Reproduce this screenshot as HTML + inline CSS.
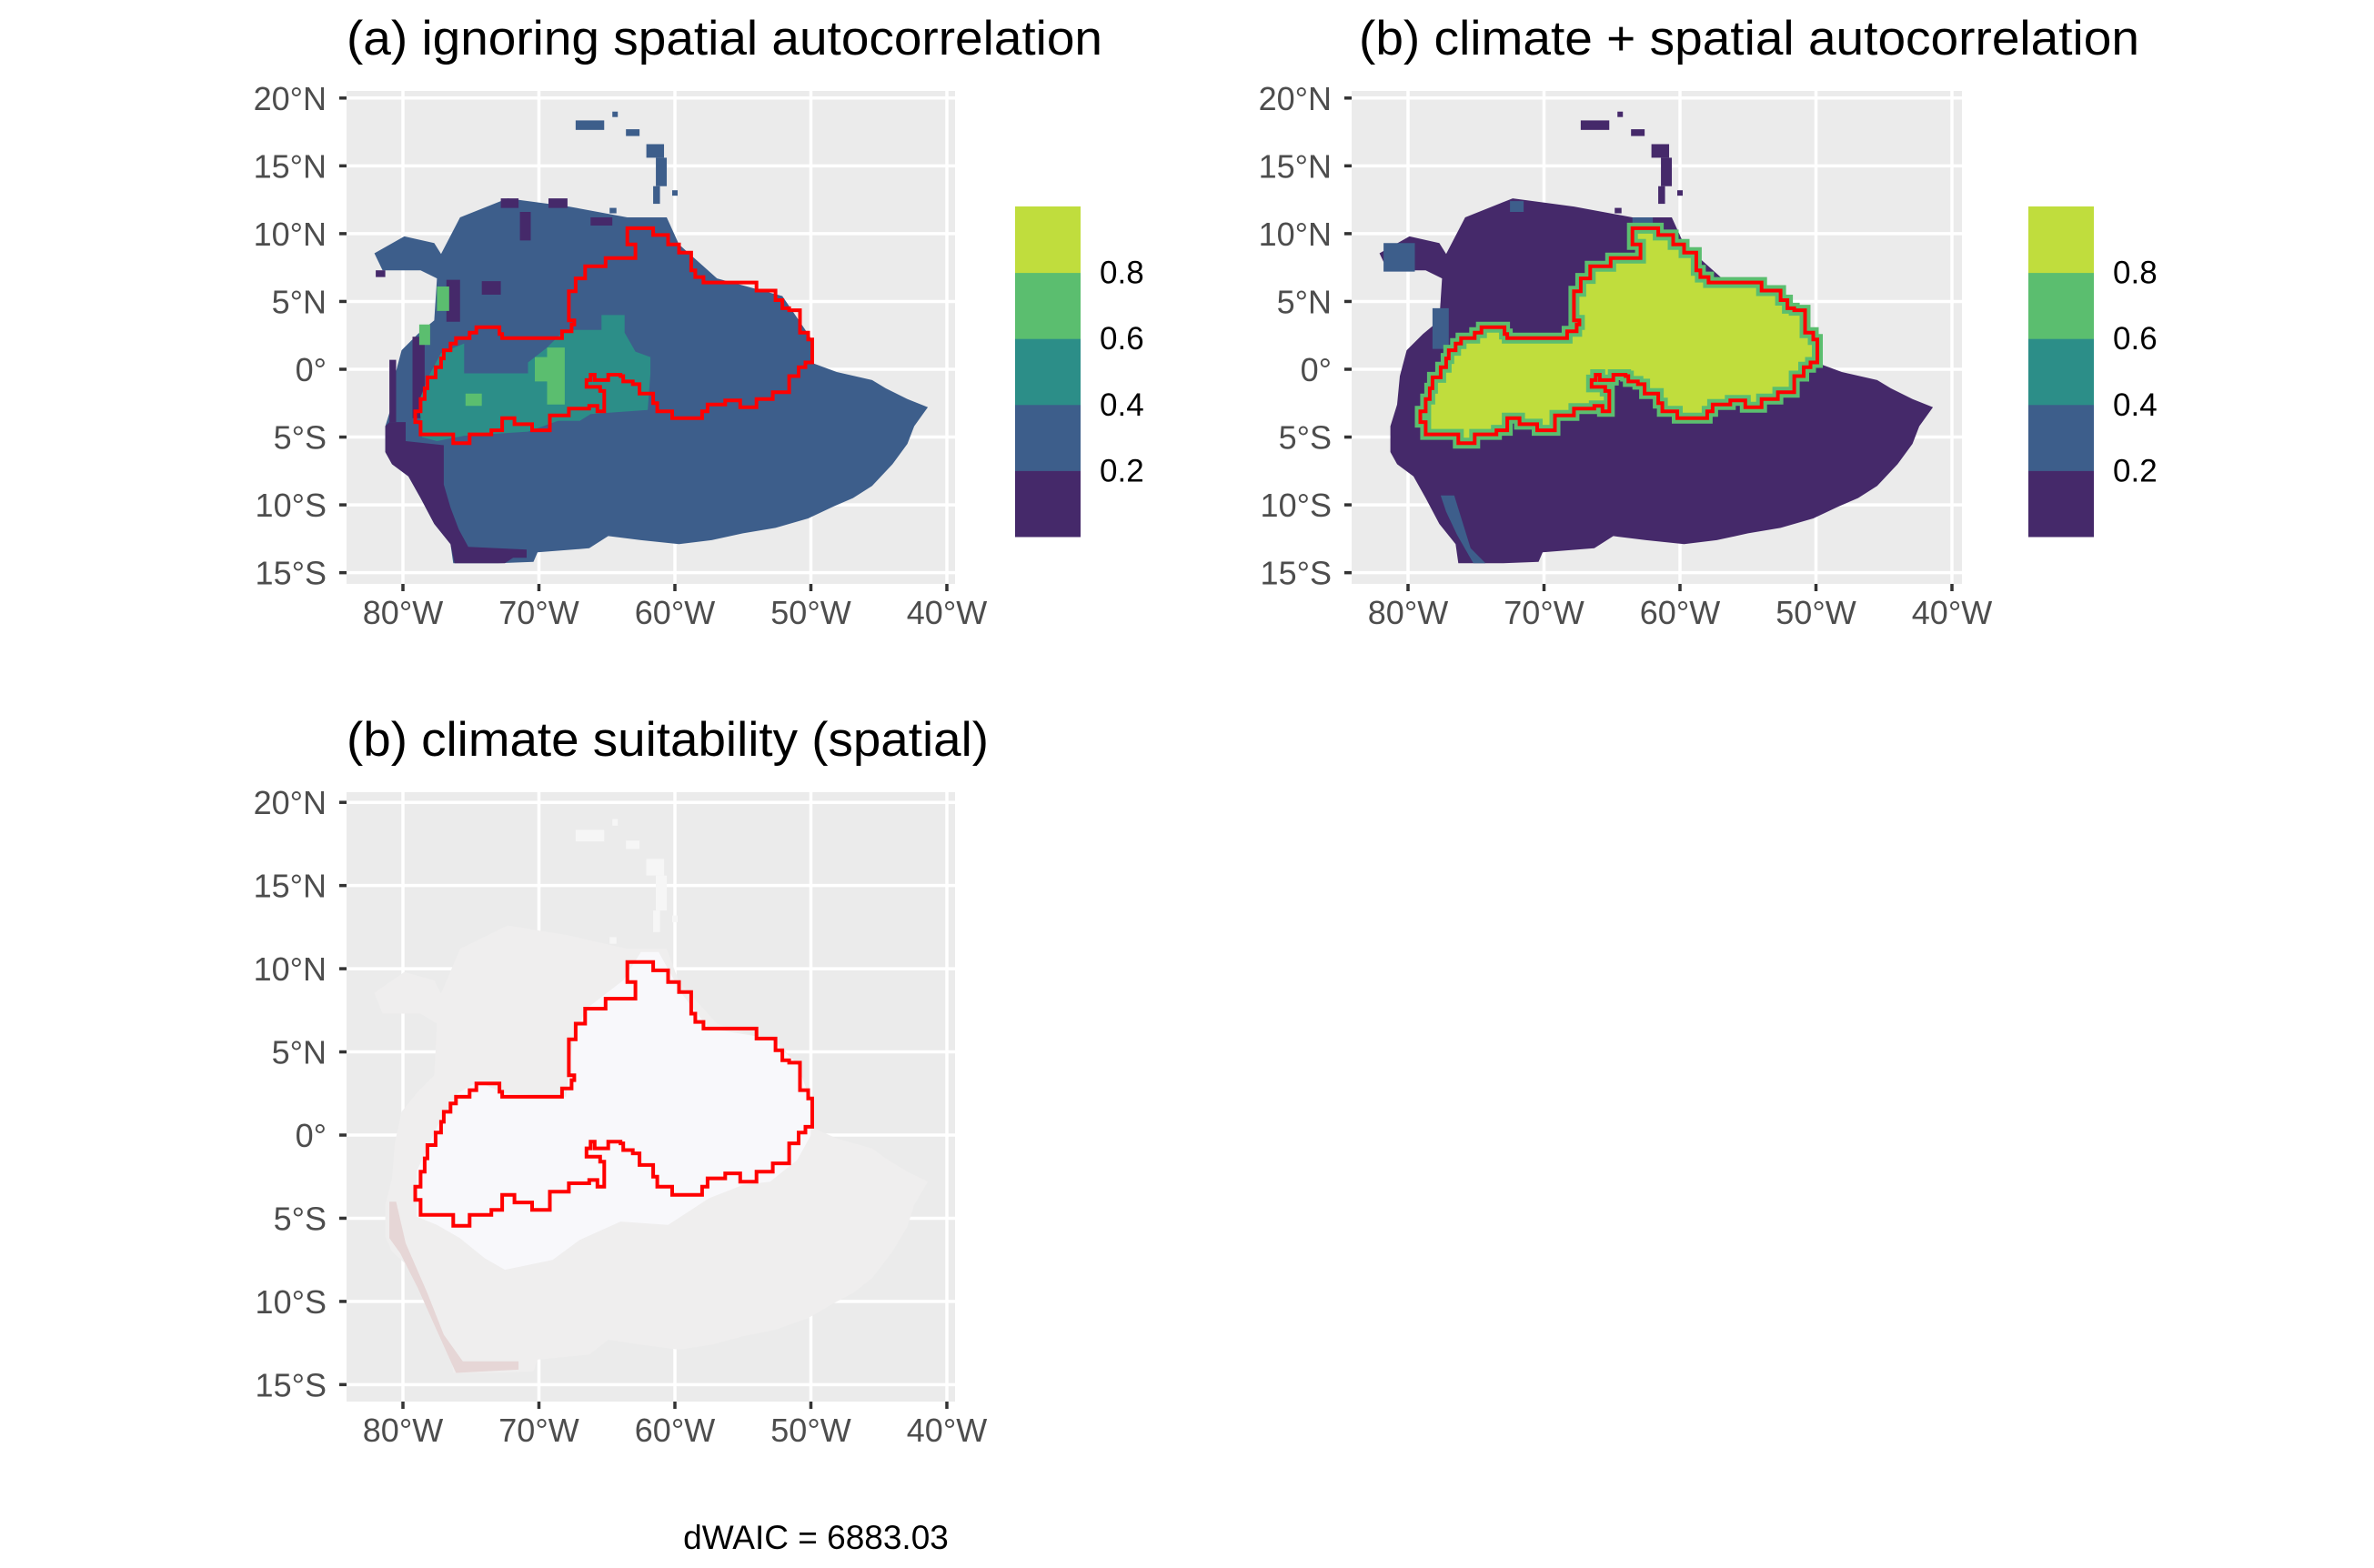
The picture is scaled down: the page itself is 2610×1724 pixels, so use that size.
<!DOCTYPE html>
<html><head><meta charset="utf-8"><style>
html,body{margin:0;padding:0;background:#fff}
svg{display:block}
text{font-family:"Liberation Sans",Arial,sans-serif}
</style></head><body>
<svg id="fig" width="2610" height="1724" viewBox="0 0 2610 1724" xmlns="http://www.w3.org/2000/svg"></svg>
<script>
// ---- data (lon/lat) ----
const lonTicks=[-80,-70,-60,-50,-40];
const lonLabels=["80°W","70°W","60°W","50°W","40°W"];
const latTicks=[20,15,10,5,0,-5,-10,-15];
const latLabels=["20°N","15°N","10°N","5°N","0°","5°S","10°S","15°S"];
const legendBreaks=[0.2,0.4,0.6,0.8];
const legendColors=["#45296a","#3d5e8b","#2c8e88","#5bbe6f","#c0dd3d"];
const land=[[-82.1,8.55],[-79.9,9.8],[-77.7,9.3],[-77.2,8.5],[-75.8,11.2],[-72.3,12.6],[-67.8,12.0],[-63.5,11.2],[-60.6,11.2],[-59.7,9.2],[-56.9,6.7],[-52.1,5.4],[-50,2.3],[-50,0.5],[-48.1,-0.2],[-45.5,-0.8],[-44.5,-1.4],[-42.9,-2.2],[-41.4,-2.8],[-42.4,-4.2],[-42.9,-5.5],[-44,-7],[-45.5,-8.6],[-46.9,-9.5],[-48.3,-10.1],[-50.2,-11],[-52.6,-11.7],[-55,-12.1],[-57.3,-12.6],[-59.7,-12.9],[-62.5,-12.6],[-64.9,-12.3],[-66.3,-13.2],[-70.1,-13.5],[-70.4,-14.2],[-73,-14.3],[-76.3,-14.3],[-76.5,-12.9],[-77.7,-11.4],[-78.7,-9.5],[-79.6,-7.9],[-80.8,-7],[-81.3,-6.1],[-81.3,-4.2],[-80.8,-2.6],[-80.6,-0.5],[-80.1,1.4],[-78.9,2.6],[-77.7,3.6],[-77.5,6.7],[-78.7,7.3],[-81.5,7.3]];
const islands=[[-67.3,18.35,-65.2,17.65],[-64.6,19.0,-64.2,18.6],[-63.6,17.7,-62.6,17.2],[-62.1,16.6,-60.8,15.6],[-61.4,15.6,-60.6,13.5],[-61.6,13.5,-61.1,12.2],[-60.2,13.2,-59.8,12.8],[-64.8,11.9,-64.3,11.5]];
const outline=[[-63.5,10.4],[-61.6,10.4],[-61.6,9.9],[-60.5,9.9],[-60.5,9.2],[-59.7,9.2],[-59.7,8.6],[-58.8,8.6],[-58.8,7.3],[-58.5,7.3],[-58.5,6.8],[-57.9,6.8],[-57.9,6.4],[-54,6.4],[-54,5.8],[-52.6,5.8],[-52.6,5.1],[-52.1,5.1],[-52.1,4.5],[-51.6,4.5],[-51.6,4.35],[-50.8,4.35],[-50.8,2.7],[-50.2,2.7],[-50.2,2.2],[-49.9,2.2],[-49.9,0.5],[-50.4,0.5],[-50.4,0.15],[-50.9,0.15],[-50.9,-0.5],[-51.6,-0.5],[-51.6,-1.7],[-52.8,-1.7],[-52.8,-2.2],[-54,-2.2],[-54,-2.8],[-55.2,-2.8],[-55.2,-2.3],[-56.3,-2.3],[-56.3,-2.6],[-57.6,-2.6],[-57.6,-3.1],[-58,-3.1],[-58,-3.6],[-60.2,-3.6],[-60.2,-3.1],[-61.3,-3.1],[-61.3,-2.5],[-61.6,-2.5],[-61.6,-1.8],[-62.6,-1.8],[-62.6,-1.1],[-63.1,-1.1],[-63.1,-0.9],[-63.8,-0.9],[-63.8,-0.5],[-64,-0.5],[-64,-0.4],[-64.9,-0.4],[-64.9,-0.8],[-65.9,-0.8],[-65.9,-0.4],[-66.2,-0.4],[-66.2,-0.8],[-66.5,-0.8],[-66.5,-1.3],[-65.5,-1.3],[-65.5,-1.6],[-65.2,-1.6],[-65.2,-3.1],[-65.7,-3.1],[-65.7,-2.7],[-66.3,-2.7],[-66.3,-2.9],[-67.8,-2.9],[-67.8,-3.4],[-69.2,-3.4],[-69.2,-4.5],[-70.5,-4.5],[-70.5,-4.05],[-71.8,-4.05],[-71.8,-3.6],[-72.7,-3.6],[-72.7,-4.5],[-73.5,-4.5],[-73.5,-4.8],[-75.1,-4.8],[-75.1,-5.45],[-76.3,-5.45],[-76.3,-4.8],[-78.7,-4.8],[-78.7,-3.9],[-79.1,-3.9],[-79.1,-3.1],[-78.7,-3.1],[-78.7,-2.2],[-78.4,-2.2],[-78.4,-1.4],[-78.2,-1.4],[-78.2,-0.6],[-77.6,-0.6],[-77.6,0.15],[-77.2,0.15],[-77.2,0.8],[-77,0.8],[-77,1.4],[-76.5,1.4],[-76.5,1.9],[-76.1,1.9],[-76.1,2.3],[-75.1,2.3],[-75.1,2.7],[-74.6,2.7],[-74.6,3.1],[-72.9,3.1],[-72.9,2.6],[-72.7,2.6],[-72.7,2.3],[-68.3,2.3],[-68.3,2.8],[-67.6,2.8],[-67.6,3.3],[-67.4,3.3],[-67.4,3.6],[-67.8,3.6],[-67.8,5.75],[-67.3,5.75],[-67.3,6.7],[-66.6,6.7],[-66.6,7.6],[-65.1,7.6],[-65.1,8.2],[-62.9,8.2],[-62.9,9.2],[-63.5,9.2]];
const tealA=[[-78.6,-5.0],[-78.8,-2.3],[-78,-0.3],[-77.2,1.2],[-75.5,1.9],[-75.5,-0.3],[-70.8,-0.3],[-70.8,0.5],[-69.4,1.6],[-68.1,2.9],[-65.4,2.9],[-65.4,4.0],[-63.7,4.0],[-63.7,2.7],[-62.9,1.3],[-61.8,0.9],[-61.8,-0.3],[-62,-3.0],[-66.2,-3.3],[-67,-3.8],[-68.6,-3.8],[-70.8,-4.6],[-75.5,-4.9],[-77.5,-5.3]];
const greenA=[[[-70.3,0.9],[-69.4,0.9],[-69.4,1.6],[-68.1,1.6],[-68.1,-2.6],[-69.4,-2.6],[-69.4,-0.9],[-70.3,-0.9]],[[-75.4,-1.8],[-74.2,-1.8],[-74.2,-2.7],[-75.4,-2.7]],[[-77.5,6.1],[-76.6,6.1],[-76.6,4.3],[-77.5,4.3]],[[-78.8,3.3],[-78,3.3],[-78,1.8],[-78.8,1.8]]];
const purpleA=[[[-81.0,-3.9],[-79.8,-3.9],[-79.8,-5.3],[-77.0,-5.6],[-77.0,-8.5],[-76.5,-10.2],[-75.9,-11.8],[-75.2,-13.1],[-70.9,-13.3],[-70.9,-13.9],[-71.9,-13.9],[-72.5,-14.3],[-76.2,-14.3],[-76.5,-12.9],[-77.7,-11.4],[-78.7,-9.5],[-79.6,-7.9],[-80.8,-7],[-81.3,-6.1],[-81.3,-4.2]],[[-81,0.7],[-80.5,0.7],[-80.5,-3.9],[-81,-3.9]],[[-79.3,2.4],[-78.4,2.4],[-78.4,-3.6],[-79.3,-3.6]],[[-72.8,12.6],[-71.5,12.6],[-71.5,11.9],[-72.8,11.9]],[[-69.3,12.6],[-67.9,12.6],[-67.9,11.9],[-69.3,11.9]],[[-71.4,11.6],[-70.6,11.6],[-70.6,9.5],[-71.4,9.5]],[[-66.2,11.2],[-64.6,11.2],[-64.6,10.6],[-66.2,10.6]],[[-76.8,6.6],[-75.8,6.6],[-75.8,3.5],[-76.8,3.5]],[[-74.2,6.5],[-72.8,6.5],[-72.8,5.5],[-74.2,5.5]],[[-82,7.3],[-81.3,7.3],[-81.3,6.8],[-82,6.8]]];
const blueB=[[[-81.8,9.3],[-79.5,9.3],[-79.5,7.2],[-81.8,7.2]],[[-78.2,4.5],[-77,4.5],[-77,1.5],[-78.2,1.5]],[[-77.6,-9.3],[-76.6,-9.3],[-75.4,-13.2],[-74.3,-14.3],[-75.2,-14.3],[-76.4,-12.2],[-77.2,-10.5]],[[-72.5,12.4],[-71.5,12.4],[-71.5,11.6],[-72.5,11.6]],[[-63.5,11.2],[-62,11.2],[-62,10.5],[-63.5,10.5]]];
const whiteC=[[-79,-4.9],[-79,-2.2],[-77.5,0.5],[-76,2.5],[-74.5,3.2],[-72.5,2.5],[-68,2.3],[-67.5,5.8],[-66.5,7.6],[-63.8,9.3],[-62.5,11],[-61.2,11],[-59.5,8.5],[-57.5,6.4],[-53,5.8],[-51,4.3],[-50,2.0],[-50,0],[-51,-1.5],[-53,-2.8],[-55,-3.0],[-57.5,-3.8],[-60.5,-5.4],[-64,-5.2],[-67,-6.3],[-69,-7.5],[-72.5,-8.1],[-74,-7.4],[-75.8,-6.2],[-77.5,-5.4]];
const pinkC=[[-81.0,-4.0],[-80.5,-4.0],[-79.8,-6.5],[-78.2,-9.5],[-77,-12],[-75.6,-13.6],[-71.5,-13.6],[-71.5,-14.1],[-76.1,-14.3],[-77.7,-11.4],[-78.9,-9.2],[-80.2,-7.1],[-81,-6.2]];

// ---- drawing ----
const NS="http://www.w3.org/2000/svg";
const svg=document.getElementById('fig');
function mk(tag,attrs,parent){const e=document.createElementNS(NS,tag);for(const k in attrs)e.setAttribute(k,attrs[k]);(parent||svg).appendChild(e);return e;}
function panel(cfg){
  const g=mk('g',{});
  
  
  const X=lon=>cfg.x80+(lon+80)*cfg.kx;
  const Y=lat=>cfg.y0-lat*cfg.ky;
  const pts=arr=>arr.map(p=>X(p[0]).toFixed(1)+','+Y(p[1]).toFixed(1)).join(' ');
  const bg=mk('rect',{x:cfg.left,y:cfg.top,width:cfg.right-cfg.left,height:cfg.bottom-cfg.top,fill:'#ebebeb'},g);
  
  
  lonTicks.forEach(v=>{const l=mk('line',{x1:X(v),x2:X(v),y1:cfg.top,y2:cfg.bottom,stroke:'#fff','stroke-width':3.5},g);});
  latTicks.forEach(v=>{const l=mk('line',{y1:Y(v),y2:Y(v),x1:cfg.left,x2:cfg.right,stroke:'#fff','stroke-width':3.5},g);});
  const layers=mk('g',{},g);
  
  
  cfg.draw(layers,pts,X,Y);
  const ol=mk('polygon',{points:pts(outline),fill:'none',stroke:'#ff0000','stroke-width':4,'stroke-linejoin':'miter'},g);
  
  
  lonTicks.forEach((v,i)=>{
    mk('line',{x1:X(v),x2:X(v),y1:cfg.bottom,y2:cfg.bottom+8,stroke:'#333','stroke-width':3.5},g);
    const t=mk('text',{x:X(v),y:cfg.bottom+44,'font-size':36,fill:'#4d4d4d','text-anchor':'middle'},g);
    t.textContent=lonLabels[i];
    
    
  });
  latTicks.forEach((v,i)=>{
    mk('line',{x1:cfg.left-8,x2:cfg.left,y1:Y(v),y2:Y(v),stroke:'#333','stroke-width':3.5},g);
    const t=mk('text',{x:cfg.left-22,y:Y(v)+13,'font-size':36,fill:'#4d4d4d','text-anchor':'end'},g);
    t.textContent=latLabels[i];
    
    
  });
  const tt=mk('text',{x:cfg.titleX,y:cfg.top-40,'font-size':53,fill:'#000',textLength:cfg.titleW,lengthAdjust:'spacingAndGlyphs'},g);
  tt.textContent=cfg.title;
  
  
}
function poly(parent,p,fill,name){const e=mk('polygon',{points:p,fill:fill},parent);return e;}
function rects(parent,X,Y,fill){islands.forEach(r=>{const e=mk('rect',{x:X(r[0]),y:Y(r[1]),width:X(r[2])-X(r[0]),height:Y(r[3])-Y(r[1]),fill:fill},parent);});}
function legend(x,y){
  const g=mk('g',{});
  
  
  const h=72.6;
  legendColors.forEach((c,i)=>{const r=mk('rect',{x:x,y:y+(4-i)*h,width:72,height:h+0.5,fill:c},g);});
  legendBreaks.forEach((b,i)=>{const t=mk('text',{x:x+93,y:y+(4-i)*h+12,'font-size':35,fill:'#000'},g);t.textContent=b.toFixed(1);});
}
panel({name:'panel-a',title:'(a) ignoring spatial autocorrelation',titleX:381,titleW:831,x80:443,kx:14.95,y0:406,ky:14.91,left:381,right:1050,top:100,bottom:642,
  draw:(g,pts,X,Y)=>{poly(g,pts(land),legendColors[1],'land-cells');rects(g,X,Y,legendColors[1]);
    purpleA.forEach(p=>poly(g,pts(p),legendColors[0],'low-cells'));
    poly(g,pts(tealA),legendColors[2],'mid-cells');
    greenA.forEach(p=>poly(g,pts(p),legendColors[3],'high-cells'));}});
legend(1116,227);
panel({name:'panel-b',title:'(b) climate + spatial autocorrelation',titleX:1494,titleW:858,x80:1548,kx:14.95,y0:406,ky:14.91,left:1486,right:2157,top:100,bottom:642,
  draw:(g,pts,X,Y)=>{poly(g,pts(land),legendColors[0],'land-cells');rects(g,X,Y,legendColors[0]);
    blueB.forEach(p=>poly(g,pts(p),legendColors[1],'blue-cells'));
    const y=poly(g,pts(outline),legendColors[4],'high-cells');y.setAttribute('stroke',legendColors[3]);y.setAttribute('stroke-width',12);}});
legend(2230,227);
panel({name:'panel-c',title:'(b) climate suitability (spatial)',titleX:381,titleW:706,x80:443,kx:14.95,y0:1248,ky:18.29,left:381,right:1050,top:871,bottom:1541,
  draw:(g,pts,X,Y)=>{poly(g,pts(land),'#efeeee','land-cells');rects(g,X,Y,'#f6f6f6');
    poly(g,pts(pinkC),'#e6d6d6','pink-cells');
    poly(g,pts(whiteC),'#f8f8fb','white-cells');}});
const d=mk('text',{x:897,y:1703,'font-size':37,fill:'#000','text-anchor':'middle'});
d.textContent='dWAIC = 6883.03';


</script>
</body></html>
